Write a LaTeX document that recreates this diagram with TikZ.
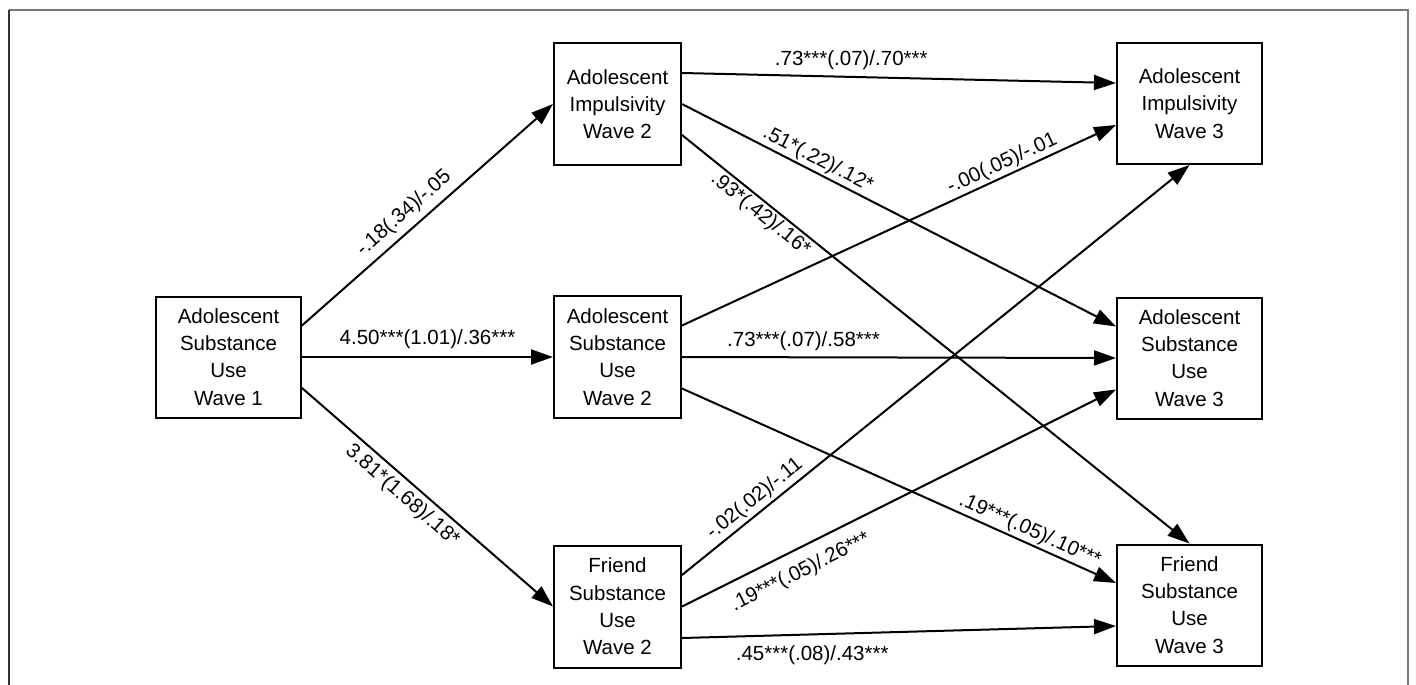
\documentclass[tikz,border=0pt]{standalone}
\usepackage{fontspec}
\setmainfont{Liberation Sans}
\usetikzlibrary{arrows.meta}
\begin{document}
\begin{tikzpicture}[x=1pt,y=-1pt,
  box/.style={draw, line width=2pt, align=center, inner sep=0pt, font=\fontsize{20.5}{27.3}\selectfont},
  narrowbox/.style={box, minimum width=127pt, minimum height=122pt},
  widebox/.style={box, minimum width=145pt, minimum height=121pt},
  conn/.style={draw, line width=2pt, -{Triangle[length=22pt,width=15pt]}},
  lab/.style={font=\fontsize{20.5}{24}\selectfont, inner sep=2pt}
]
\useasboundingbox (0,0) rectangle (1416,685);
% frame
\draw[line width=1.6pt, color={rgb,255:red,120;green,120;blue,120}] (9,10) -- (1408,10) -- (1408,685);
\draw[line width=1.6pt, color={rgb,255:red,50;green,50;blue,50}] (9,685) -- (9,10);
% nodes
\node[widebox] (w1) at (228.5,357) {Adolescent\\Substance\\Use\\Wave 1};
\node[narrowbox] (ai2) at (617.5,104) {Adolescent\\Impulsivity\\Wave 2};
\node[narrowbox] (asu2) at (617.5,357) {Adolescent\\Substance\\Use\\Wave 2};
\node[narrowbox] (fsu2) at (617.5,606.5) {Friend\\Substance\\Use\\Wave 2};
\node[widebox] (ai3) at (1189.5,103.5) {Adolescent\\Impulsivity\\Wave 3};
\node[widebox] (asu3) at (1189.5,358) {Adolescent\\Substance\\Use\\Wave 3};
\node[widebox] (fsu3) at (1189.5,605) {Friend\\Substance\\Use\\Wave 3};
% connectors
\draw[conn] ([yshift=31.5pt]w1.east) -- node[lab,sloped,above=4pt,pos=0.45]{-.18(.34)/-.05} (ai2.west);
\draw[conn] (w1.east) -- node[lab,above=5pt,pos=0.5]{4.50***(1.01)/.36***} (asu2.west);
\draw[conn] ([yshift=-31pt]w1.east) -- node[lab,sloped,below=3pt,pos=0.44]{3.81*(1.68)/.18*} (fsu2.west);
\draw[conn] ([yshift=31pt]ai2.east) -- node[lab,above=4pt,pos=0.39]{.73***(.07)/.70***} ([yshift=20.5pt]ai3.west);
\draw[conn] (ai2.east) -- node[lab,sloped,above=0pt,pos=0.30]{.51*(.22)/.12*} ([yshift=31.5pt]asu3.west);
\draw[conn] ([yshift=-31pt]ai2.east) -- node[lab,sloped,below=0pt,pos=0.17]{.93*(.42)/.16*} (fsu3.north);
\draw[conn] ([yshift=31.5pt]asu2.east) -- node[lab,sloped,above=0pt,pos=0.75]{-.00(.05)/-.01} ([yshift=-21.5pt]ai3.west);
\draw[conn] (asu2.east) -- node[lab,above=4pt,pos=0.28]{.73***(.07)/.58***} (asu3.west);
\draw[conn] ([yshift=-31.5pt]asu2.east) -- node[lab,sloped,above=0pt,pos=0.79]{.19***(.05)/.10***} ([yshift=22pt]fsu3.west);
\draw[conn] ([yshift=31.5pt]fsu2.east) -- node[lab,sloped,above=1pt,pos=0.16]{-.02(.02)/-.11} (ai3.south);
\draw[conn] (fsu2.east) -- node[lab,sloped,below=10pt,pos=0.25]{.19***(.05)/.26***} ([yshift=-31.5pt]asu3.west);
\draw[conn] ([yshift=-31.5pt]fsu2.east) -- node[lab,below=8pt,pos=0.30]{.45***(.08)/.43***} ([yshift=-21pt]fsu3.west);
\end{tikzpicture}
\end{document}
